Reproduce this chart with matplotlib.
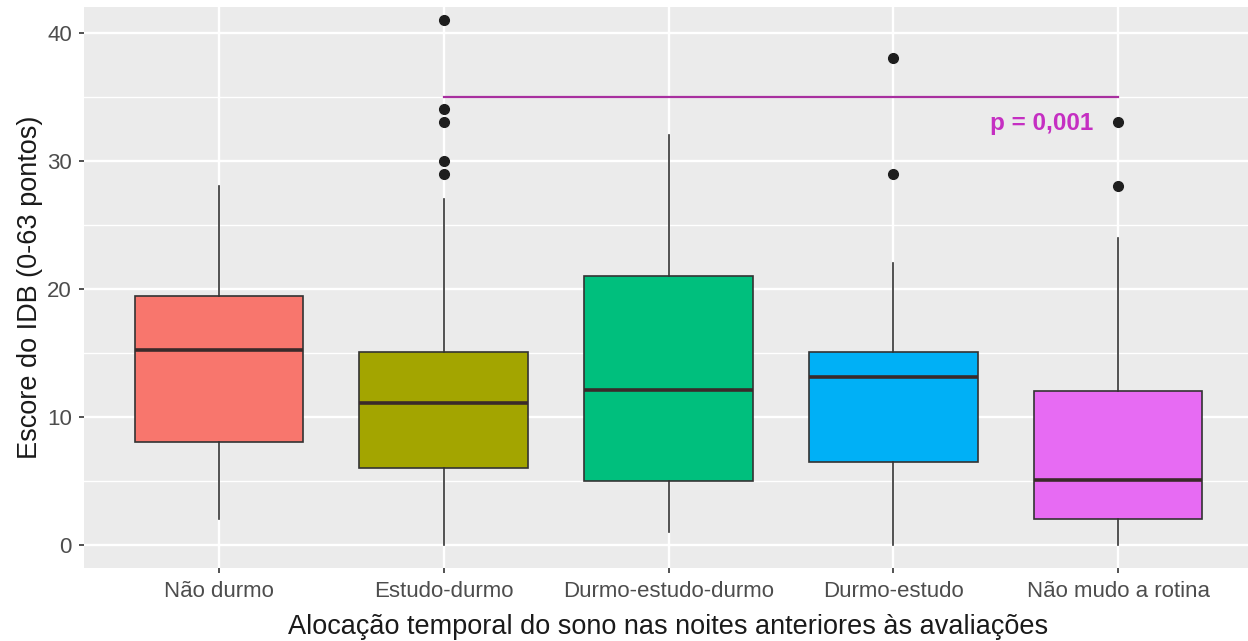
import matplotlib
matplotlib.use("Agg")
import matplotlib.pyplot as plt
from matplotlib.ticker import MultipleLocator

plt.rcParams['font.family'] = ['Liberation Sans', 'DejaVu Sans']

categories = ["Não durmo", "Estudo-durmo", "Durmo-estudo-durmo",
              "Durmo-estudo", "Não mudo a rotina"]
q1 = [8, 6, 5, 6.5, 2]
medians = [15.2, 11.1, 12.1, 13.1, 5.1]
q3 = [19.4, 15.1, 21.0, 15.1, 12.0]
whisker_low = [2, 0, 1, 0, 0]
whisker_high = [28, 27, 32, 22, 24]
outliers = [[], [41, 34, 33, 30, 29], [], [38, 29], [33, 28]]
fill_colors = ["#F8766D", "#A3A500", "#00BF7D", "#00B0F6", "#E76BF3"]

comparison = ("Estudo-durmo", "Não mudo a rotina")
comparison_y = 35
p_label = "p = 0,001"

W, H = 1248, 641
fig = plt.figure(figsize=(W / 100, H / 100), dpi=100)
left_px, right_px, top_px, bottom_px = 84.15, 1252.9, 7, 568
ax = fig.add_axes([left_px / W, 1 - bottom_px / H,
                   (right_px - left_px) / W, (bottom_px - top_px) / H])
ax.set_facecolor("#EBEBEB")
for s in ax.spines.values():
    s.set_visible(False)

positions = list(range(1, len(categories) + 1))
stats = []
for i, name in enumerate(categories):
    stats.append(dict(label=name, med=medians[i], q1=q1[i], q3=q3[i],
                      whislo=whisker_low[i], whishi=whisker_high[i],
                      fliers=outliers[i]))

edge = "#333333"
bp = ax.bxp(stats, positions=positions, widths=0.75, patch_artist=True,
            showcaps=False, manage_ticks=False,
            boxprops=dict(edgecolor=edge, linewidth=1.2),
            medianprops=dict(color="#3A2A2A", linewidth=2.6, solid_capstyle="butt"),
            whiskerprops=dict(color=edge, linewidth=1.2),
            flierprops=dict(marker="o", markerfacecolor="#1E1E1E",
                            markeredgecolor="#1E1E1E", markersize=7))
for patch, c in zip(bp["boxes"], fill_colors):
    patch.set_facecolor(c)
    patch.set_zorder(3)
for key in ("medians", "whiskers", "fliers"):
    for art in bp[key]:
        art.set_zorder(4)

# significance bracket between two groups
x0 = categories.index(comparison[0]) + 1
x1 = categories.index(comparison[1]) + 1
ax.plot([x0, x1], [comparison_y, comparison_y], color="#A8309F", lw=1.6, zorder=5)
ax.text(4.89, comparison_y - 2.1, p_label, color="#C52FC2", fontsize=17.5,
        fontweight="bold", ha="right", va="center", zorder=5)

ax.set_xlim(0.4, 5.6)
ax.set_ylim(-1.8, 42.0)
ax.set_xticks(positions)
ax.set_xticklabels(categories)
ax.yaxis.set_major_locator(MultipleLocator(10))
ax.yaxis.set_minor_locator(MultipleLocator(5))
ax.set_axisbelow(True)
ax.grid(which="major", color="white", linewidth=1.7)
ax.grid(which="minor", axis="y", color="white", linewidth=1.0)
ax.tick_params(axis="both", which="major", length=3.8, width=1.2,
               color="#333333", labelcolor="#4D4D4D", labelsize=16)
ax.tick_params(axis="x", pad=5.5)
ax.tick_params(axis="y", pad=5)
ax.tick_params(which="minor", length=0)

fig.text((left_px + right_px) / 2 / W, 1 - 634.5 / H,
         "Alocação temporal do sono nas noites anteriores às avaliações",
         ha="center", va="baseline", fontsize=19.5, color="#1A1A1A")
fig.text(30 / W, 1 - (top_px + bottom_px) / 2 / H,
         "Escore do IDB (0-63 pontos)", rotation=90,
         ha="center", va="center", fontsize=19.5, color="#1A1A1A")

fig.savefig("out.png", dpi=100, facecolor="white")
